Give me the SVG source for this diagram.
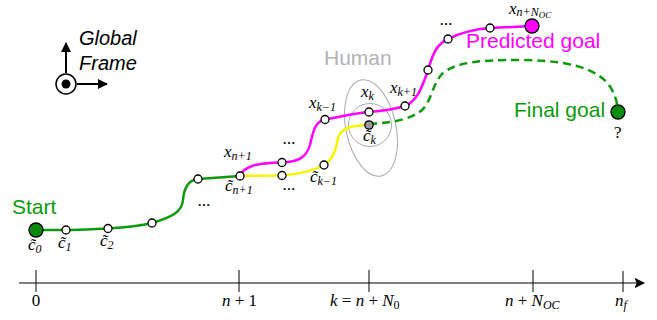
<svg xmlns="http://www.w3.org/2000/svg" width="657" height="320" viewBox="0 0 657 320">
<defs>
<style>
.m{font-family:"Liberation Serif","DejaVu Serif",serif;font-style:italic;font-size:17px;fill:#000}
.r{font-style:normal}
.s{font-size:12px}
.ss{font-size:9px}
.t{font-family:"Liberation Sans",Arial,sans-serif;font-size:21px}
.pt{fill:#fff;stroke:#000;stroke-width:1.3}
.ell{fill:none;stroke:#aaa;stroke-width:1}
</style>
<marker id="ah" viewBox="0 0 10 10" refX="9" refY="5" markerWidth="5" markerHeight="5" orient="auto" markerUnits="strokeWidth">
<path d="M0,0 L10,5 L0,10 Z" fill="#000"/>
</marker>
<marker id="ax" viewBox="0 0 10 10" refX="9" refY="5" markerWidth="7" markerHeight="7" orient="auto" markerUnits="strokeWidth">
<path d="M0,0 L10,5 L0,10 L2,5 Z" fill="#000"/>
</marker>
</defs>

<g id="frame">
<line x1="66" y1="73" x2="66" y2="43" stroke="#000" stroke-width="2" marker-end="url(#ah)"/>
<line x1="77" y1="84" x2="107" y2="84" stroke="#000" stroke-width="2" marker-end="url(#ah)"/>
<circle cx="66" cy="84" r="10" fill="#fff" stroke="#000" stroke-width="1.5"/>
<circle cx="66" cy="84" r="4.5" fill="#000"/>
<text x="79" y="45" font-family="Liberation Sans,Arial,sans-serif" font-style="italic" font-size="20">Global</text>
<text x="79" y="70" font-family="Liberation Sans,Arial,sans-serif" font-style="italic" font-size="20">Frame</text>
</g>

<g id="human">
<ellipse class="ell" cx="371" cy="128" rx="25" ry="49" transform="rotate(-12 371 128)"/>
<circle class="ell" cx="370" cy="125" r="21.5"/>
<text class="t" x="324" y="65" fill="#b3b3b3" font-size="20">Human</text>
</g>

<g id="connectors" fill="none" stroke-width="2.5">
<path stroke="#0a9a0a" d="M36,230 L66,230 C80,230 95,229 108,228.5 C125,227.5 140,226 152,223 C172,217 182,212 183,200 C184,188 188,180 198,179 L240,176"/>
<path stroke="#f5f500" d="M240,176 L282,175.5 C300,174 315,170 324,165 C335,158 336,147 338,138 C341,128 352,125 369,125"/>
<path stroke="#ff00ff" d="M240,176 C244,166 256,163 282,162.5 C298,162 306,158 310,145 C313,132 315,121 325,119.5 C340,117 355,113 369,112 C383,111 395,109 405,106 C417,101 422,88 428,70 C433,53 437,44 448,39 C462,32 476,29 490,28 L532,26"/>
<path stroke="#0a9a0a" stroke-dasharray="8,5" d="M369,124 C390,123 410,120 422,110 C432,100 432,85 442,74 C455,62 480,60 520,60 C560,60 600,66 612,90 C616,98 617,102 617,105"/>
</g>

<g id="start">
<circle cx="36" cy="230" r="7" fill="#078a07" stroke="#000" stroke-width="1.3"/>
<text class="t" x="12" y="214" fill="#0a9a0a">Start</text>
<text class="m" x="28" y="250">c&#771;<tspan class="s" dy="3">0</tspan></text>
</g>
<g id="c1"><circle class="pt" cx="66" cy="230" r="4"/><text class="m" x="58" y="248">c&#771;<tspan class="s" dy="3">1</tspan></text></g>
<g id="c2"><circle class="pt" cx="108" cy="228.5" r="4"/><text class="m" x="100" y="246">c&#771;<tspan class="s" dy="3">2</tspan></text></g>
<g id="c3"><circle class="pt" cx="152" cy="223" r="4"/></g>
<g id="c4"><circle class="pt" cx="198" cy="179" r="4"/><text class="m" x="198" y="206">...</text></g>
<g id="cn1"><circle class="pt" cx="240" cy="176" r="4"/><text class="m" x="225" y="191">c&#771;<tspan class="s" dy="3">n+1</tspan></text>
<text class="m" x="224" y="157">x<tspan class="s" dy="3">n+1</tspan></text></g>
<g id="xm"><circle class="pt" cx="282" cy="162.5" r="4"/><text class="m" x="283" y="144">...</text></g>
<g id="cm"><circle class="pt" cx="282" cy="175.5" r="4"/><text class="m" x="283" y="190">...</text></g>
<g id="ck1"><circle class="pt" cx="324" cy="165" r="4"/><text class="m" x="310" y="182">c&#771;<tspan class="s" dy="3">k&#8722;1</tspan></text></g>
<g id="xk1"><circle class="pt" cx="325" cy="119.5" r="4"/><text class="m" x="309" y="108">x<tspan class="s" dy="3">k&#8722;1</tspan></text></g>
<g id="xk"><circle class="pt" cx="369" cy="112" r="4"/><text class="m" x="361" y="97">x<tspan class="s" dy="3">k</tspan></text></g>
<g id="ck"><circle cx="369" cy="125" r="4.2" fill="#999" stroke="#000" stroke-width="1.3"/><text class="m" x="363" y="141">c&#771;<tspan class="s" dy="3">k</tspan></text></g>
<g id="xkp1"><circle class="pt" cx="405" cy="106" r="4"/><text class="m" x="390" y="93">x<tspan class="s" dy="3">k+1</tspan></text></g>
<g id="xa"><circle class="pt" cx="428" cy="70" r="4"/></g>
<g id="xb"><circle class="pt" cx="448" cy="39" r="4"/><text class="m" x="440" y="25">...</text></g>
<g id="xc"><circle class="pt" cx="490" cy="28" r="4"/></g>
<g id="pgoal">
<circle cx="532" cy="26" r="7" fill="#ff00ff" stroke="#000" stroke-width="1.3"/>
<text class="m" x="509" y="14" font-size="16">x<tspan class="s" dy="2">n+N</tspan><tspan class="ss" dy="2">OC</tspan></text>
<text class="t" x="466" y="48" fill="#ff00ff">Predicted goal</text>
</g>
<g id="fgoal">
<circle cx="618" cy="112" r="7" fill="#078a07" stroke="#000" stroke-width="1.3"/>
<text class="t" x="514" y="117" fill="#0a9a0a">Final goal</text>
<text class="m r" x="614" y="138" font-size="15">?</text>
</g>

<g id="axis">
<line x1="19" y1="283" x2="644" y2="283" stroke="#555" stroke-width="1.5" marker-end="url(#ax)"/>
<g stroke="#000" stroke-width="1">
<line x1="36" y1="270" x2="36" y2="292"/>
<line x1="239" y1="270" x2="239" y2="292"/>
<line x1="369" y1="270" x2="369" y2="292"/>
<line x1="533" y1="270" x2="533" y2="292"/>
<line x1="623" y1="271" x2="623" y2="292"/>
</g>
<text class="m r" x="36" y="306" text-anchor="middle">0</text>
<text class="m" x="222" y="306">n <tspan class="r">+ 1</tspan></text>
<text class="m" x="330" y="306">k <tspan class="r">=</tspan> n <tspan class="r">+</tspan> N<tspan class="s r" dy="3">0</tspan></text>
<text class="m" x="505" y="306">n <tspan class="r">+</tspan> N<tspan class="s" dy="3">OC</tspan></text>
<text class="m" x="615" y="306">n<tspan class="s" dy="3">f</tspan></text>
</g>
</svg>
